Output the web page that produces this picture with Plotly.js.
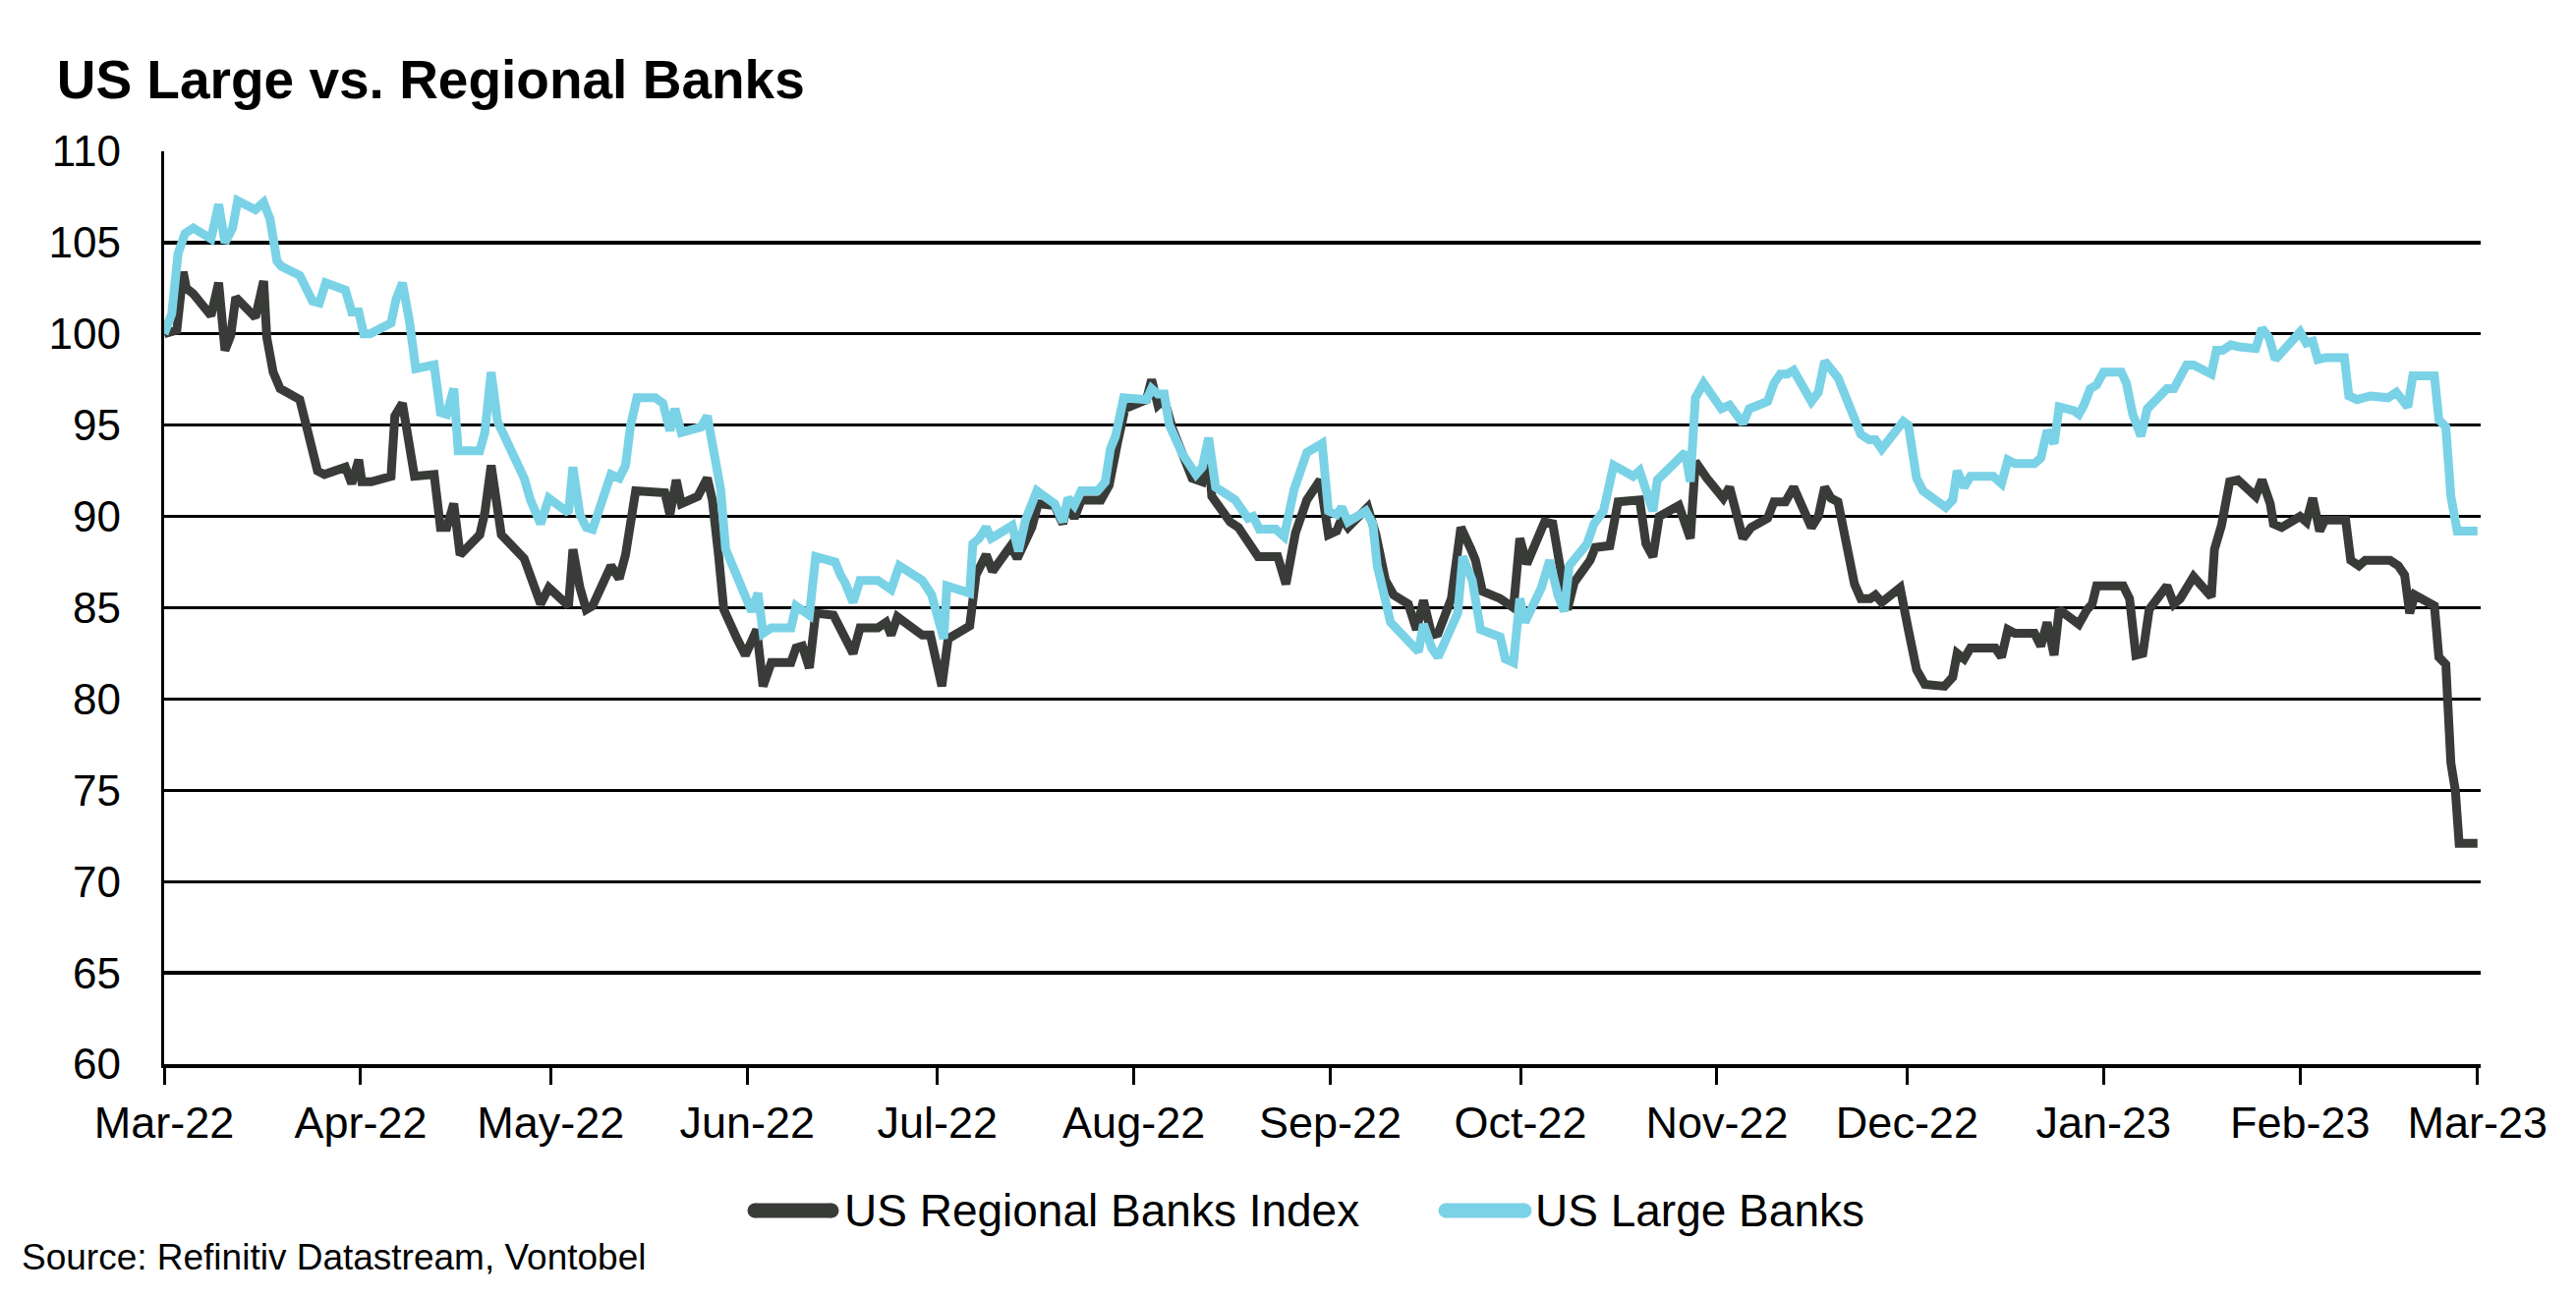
<!DOCTYPE html>
<html>
<head>
<meta charset="utf-8">
<script src="https://cdn.plot.ly/plotly-3.0.1.min.js"></script>
<style>
  html, body { margin: 0; padding: 0; background: #ffffff; }
  #chart { width: 2621px; height: 1321px; }
</style>
</head>
<body>
<div id="chart"></div>
<script>
// ---- Data ----
// Days since 2022-03-01 for each vertex, and index values (rebased to 100)
const startDate = '2022-03-01';

const regionalDays = [
  0,2.0,3.0,3.5,4.6,7.4,8.6,9.6,10.5,11.3,14.4,15.7,16.2,17.2,18.3,21.4,22.7,24.2,25.3,28.6,
  29.6,30.7,31.2,32.7,35.8,36.4,37.6,38.7,39.5,42.6,43.6,44.6,45.7,46.7,49.8,50.6,51.6,53.2,54.5,56.8,
  59.4,60.7,63.8,64.5,65.6,66.6,67.6,70.5,71.8,72.8,74.4,78.5,79.0,79.8,80.8,81.6,84.2,85.7,86.5,87.5,
  88.3,90.4,91.7,93.5,94.5,95.8,98.9,99.7,100.7,101.8,102.8,105.6,106.7,108.7,109.8,112.6,113.9,114.7,115.7,119.6,
  120.9,122.7,123.7,127.1,128.1,129.7,130.7,133.6,134.6,136.9,137.9,140.5,141.8,142.6,143.6,144.7,147.8,149.1,150.4,151.6,
  155.0,155.8,156.8,157.8,159.1,162.2,163.8,164.8,165.3,168.2,169.5,172.6,175.7,177.0,178.5,
  180.3,182.4,183.7,185.0,185.8,186.8,189.9,191.2,192.7,194.0,196.3,197.6,198.7,200.0,201.0,203.1,204.6,206.2,206.9,208.0,
  210.8,212.9,213.9,215.0,217.8,219.1,220.6,221.4,222.5,225.0,225.8,228.1,229.4,232.8,233.8,234.9,235.9,239.0,240.8,
  241.6,243.4,246.0,247.0,249.1,250.4,253.0,254.0,255.8,257.1,259.9,261.0,262.0,263.0,264.1,266.7,267.7,269.2,270.0,271.0,
  273.9,275.2,276.5,277.8,280.9,282.2,282.9,284.0,285.0,288.9,289.9,290.9,292.0,295.1,296.1,297.1,298.2,299.0,
  301.3,302.1,303.4,304.2,304.9,309.1,310.1,311.1,312.2,313.2,316.0,317.1,318.1,320.2,323.0,323.5,324.6,325.9,327.2,330.0,
  331.0,332.3,332.8,334.1,337.0,338.0,339.0,340.1,340.9,344.2,345.0,346.3,347.3,351.2,352.5,353.5,354.3,355.1,358.2,358.9,
  360.0,360.8,361.5,362.1,365.0
];
const regionalValues = [
  100.0,100.2,103.4,102.5,102.2,101.0,102.8,99.1,99.9,102.0,100.9,102.9,99.8,97.9,97.0,96.4,94.6,92.5,92.3,92.7,
  91.8,93.1,91.9,91.9,92.2,95.5,96.2,94.2,92.2,92.3,89.4,89.4,90.7,87.9,89.0,90.2,92.8,89.0,88.5,87.7,
  85.2,86.1,85.1,88.2,86.1,84.9,85.1,87.3,86.6,87.9,91.4,91.4,91.3,90.1,92.0,90.7,91.1,92.1,90.9,87.8,
  84.9,83.3,82.4,83.8,80.7,82.0,82.0,82.8,82.9,81.7,84.7,84.6,83.9,82.5,83.9,83.9,84.2,83.5,84.5,83.5,
  83.5,80.7,83.3,84.0,86.8,87.9,87.0,88.4,87.7,89.4,90.7,90.6,89.6,90.8,89.9,90.9,90.9,91.7,94.0,95.9,
  96.4,97.5,96.1,96.4,94.8,92.1,91.9,93.4,91.1,89.7,89.4,87.8,87.8,86.3,89.1,
  90.9,92.0,89.0,89.2,89.9,89.4,90.5,89.0,86.5,85.7,85.2,83.8,85.4,83.5,83.6,85.5,89.4,88.2,87.6,85.9,
  85.5,85.0,88.8,87.4,89.7,89.6,86.1,84.9,86.4,87.6,88.3,88.4,90.8,90.9,88.5,87.8,90.0,90.6,88.8,
  93.0,92.1,91.0,91.6,88.8,89.4,89.9,90.8,90.8,91.6,89.4,90.0,91.6,91.0,90.8,86.3,85.5,85.5,85.7,85.3,
  86.1,83.8,81.6,80.8,80.7,81.2,82.5,82.2,82.8,82.8,82.3,83.8,83.6,83.6,82.9,84.2,82.4,84.9,
  84.3,84.1,84.9,85.2,86.2,86.2,85.5,82.4,82.5,84.9,86.2,85.2,85.5,86.7,85.6,88.2,89.5,91.9,92.0,91.1,
  92.0,90.7,89.6,89.4,90.0,89.7,91.0,89.2,89.8,89.8,87.6,87.3,87.6,87.6,87.3,86.8,84.7,85.7,85.1,82.3,
  81.9,76.5,75.0,72.1,72.1
];

const largeDays = [
  0,1.2,2.2,3.3,4.6,7.4,8.6,9.6,10.8,11.6,14.4,15.7,16.7,17.8,18.5,21.4,23.4,24.5,25.5,28.6,
  29.6,30.7,31.5,32.5,35.8,36.6,37.6,38.7,39.7,42.6,43.6,44.6,45.7,46.4,49.8,50.6,51.6,52.6,54.5,56.8,57.8,
  59.4,60.7,63.8,64.5,65.6,66.6,67.6,70.5,71.8,72.8,73.6,74.6,77.5,78.7,79.8,80.6,81.6,84.7,85.7,86.8,
  87.8,88.6,90.1,91.7,92.7,93.7,94.5,95.8,98.9,99.7,100.7,101.8,102.8,105.9,106.7,107.4,108.7,109.8,112.6,114.7,116.0,119.6,
  121.1,123.0,123.5,127.1,127.6,128.6,129.7,130.5,133.8,134.8,135.9,137.7,140.5,141.8,142.6,143.6,144.7,147.3,148.5,149.3,
  150.1,151.4,155.0,155.8,156.8,157.8,158.6,160.7,162.8,163.8,164.8,165.9,169.0,171.0,171.8,172.8,175.4,176.7,178.3,179.8,
  180.3,182.7,183.7,185.0,185.8,186.8,189.6,190.7,191.4,193.5,196.1,197.9,198.7,200.0,201.0,204.1,204.9,206.4,207.7,210.8,
  211.6,212.9,213.9,214.7,217.3,218.6,219.9,220.9,221.7,224.5,225.6,227.1,228.7,231.8,232.8,234.9,235.6,237.7,240.0,
  240.8,241.6,242.9,245.7,247.0,249.1,250.1,253.0,254.0,255.0,256.1,257.1,259.9,261.0,262.0,264.1,267.7,269.0,270.0,271.0,
  274.4,275.2,276.5,277.5,281.1,282.2,282.9,284.0,285.0,288.6,289.9,290.9,292.0,295.1,296.1,297.1,298.2,299.0,
  301.3,302.1,302.9,303.9,304.9,306.0,308.8,309.6,310.6,311.9,312.9,316.0,317.1,318.1,319.1,320.2,323.0,323.8,324.8,326.1,
  327.2,330.0,331.0,332.1,333.1,337.0,338.0,339.0,339.8,341.1,344.0,344.7,346.0,348.1,350.9,352.2,354.0,354.8,355.8,358.2,
  358.9,360.0,360.8,361.8,365.0
];
const largeValues = [
  100.0,101.1,104.4,105.5,105.8,105.2,107.1,105.0,105.8,107.3,106.8,107.2,106.3,104.0,103.7,103.2,101.8,101.7,102.8,102.4,
  101.2,101.2,100.0,100.0,100.6,101.9,102.8,100.7,98.1,98.3,95.7,95.6,97.0,93.6,93.6,94.6,97.9,95.2,93.8,92.1,90.9,
  89.6,91.0,90.2,92.7,90.1,89.4,89.3,92.3,92.1,92.8,95.0,96.5,96.5,96.2,94.7,95.9,94.6,94.9,95.5,93.4,
  91.5,88.2,86.9,85.5,84.8,85.8,83.6,83.9,83.9,85.1,84.9,84.6,87.8,87.5,86.8,86.4,85.3,86.5,86.5,86.0,87.3,86.5,
  85.7,83.3,86.2,85.8,88.5,88.8,89.4,88.8,89.5,88.1,89.8,91.4,90.7,89.7,91.0,90.6,91.4,91.4,91.9,93.7,
  94.4,96.5,96.4,97.0,96.7,96.7,95.0,93.4,92.3,92.7,94.3,91.6,90.9,89.9,90.0,89.3,89.3,88.9,91.5,93.2,
  93.5,94.0,90.3,90.1,90.5,89.7,90.3,89.6,87.3,84.2,83.3,82.6,84.1,82.8,82.3,84.7,87.8,86.5,83.8,83.4,
  82.2,82.0,85.5,84.2,86.1,87.6,85.7,84.8,87.3,88.5,89.6,90.3,92.8,92.2,92.5,90.3,92.0,92.7,93.5,
  91.9,96.5,97.3,95.9,96.1,95.1,95.9,96.3,97.3,97.8,97.8,98.0,96.3,96.8,98.5,97.6,94.5,94.2,94.2,93.7,
  95.2,95.0,92.1,91.4,90.5,90.9,92.5,91.6,92.2,92.2,91.8,93.1,92.9,92.9,93.2,94.7,94.0,96.0,
  95.8,95.6,96.1,97.0,97.2,97.9,97.9,97.3,95.6,94.4,95.9,97.0,97.0,97.8,98.3,98.3,97.8,99.1,99.1,99.4,
  99.3,99.2,100.3,99.8,98.6,100.1,99.5,99.6,98.6,98.7,98.7,96.6,96.4,96.6,96.5,96.8,96.0,97.7,97.7,97.7,
  95.3,94.9,91.1,89.2,89.2
];

const tickDates = ['2022-03-01','2022-04-01','2022-05-01','2022-06-01','2022-07-01','2022-08-01','2022-09-01',
                   '2022-10-01','2022-11-01','2022-12-01','2023-01-01','2023-02-01','2023-03-01'];
const tickLabels = ['Mar-22','Apr-22','May-22','Jun-22','Jul-22','Aug-22','Sep-22',
                    'Oct-22','Nov-22','Dec-22','Jan-23','Feb-23','Mar-23'];

const seriesNames = ['US Regional Banks Index', 'US Large Banks'];
const seriesColors = ['#393b38', '#7ad2e6'];
const titleText = 'US Large vs. Regional Banks';
const sourceText = 'Source: Refinitiv Datastream, Vontobel';

// ---- Helpers ----
const baseMs = Date.parse(startDate + 'T00:00:00Z');
function toDate(d) {
  return new Date(baseMs + d * 86400000).toISOString().slice(0, 19).replace('T', ' ');
}

const FONT = 'Liberation Sans, Arial, Helvetica, sans-serif';
const W = 2621, H = 1321;
const M = { l: 167, r: 97, t: 154, b: 238 };
const plotW = W - M.l - M.r;
const plotH = H - M.t - M.b;
const px = X => (X - M.l) / plotW;          // container px -> paper x
const py = Y => (H - M.b - Y) / plotH;      // container px -> paper y

const traces = [
  {
    x: regionalDays.map(toDate),
    y: regionalValues,
    name: seriesNames[0],
    type: 'scatter',
    mode: 'lines',
    line: { color: seriesColors[0], width: 9, shape: 'linear' },
    hoverinfo: 'skip'
  },
  {
    x: largeDays.map(toDate),
    y: largeValues,
    name: seriesNames[1],
    type: 'scatter',
    mode: 'lines',
    line: { color: seriesColors[1], width: 9, shape: 'linear' },
    hoverinfo: 'skip'
  }
];

// ---- Custom legend (long rounded swatches like the reference) ----
const legendY = 1232;
const legendItems = [
  { x0: 768, x1: 846, textX: 857 },
  { x0: 1471, x1: 1551, textX: 1560 }
];
const shapes = [];
const annotations = [];
const capR = 7.5;
legendItems.forEach((it, i) => {
  shapes.push({
    type: 'line', xref: 'paper', yref: 'paper',
    x0: px(it.x0), x1: px(it.x1), y0: py(legendY), y1: py(legendY),
    line: { color: seriesColors[i], width: 15 }
  });
  [it.x0, it.x1].forEach(cx => {
    shapes.push({
      type: 'circle', xref: 'paper', yref: 'paper',
      x0: px(cx - capR), x1: px(cx + capR), y0: py(legendY + capR), y1: py(legendY - capR),
      fillcolor: seriesColors[i], line: { width: 0 }
    });
  });
  annotations.push({
    text: seriesNames[i], xref: 'paper', yref: 'paper',
    x: px(it.textX), y: py(legendY), xanchor: 'left', yanchor: 'middle',
    showarrow: false, font: { family: FONT, size: 46, color: '#000000' }
  });
});
annotations.push({
  text: sourceText, xref: 'paper', yref: 'paper',
  x: px(20), y: py(1279), xanchor: 'left', yanchor: 'middle',
  showarrow: false, font: { family: FONT, size: 37, color: '#000000' }
});

const layout = {
  width: W,
  height: H,
  paper_bgcolor: '#ffffff',
  plot_bgcolor: '#ffffff',
  margin: { l: M.l, r: M.r, t: M.t, b: M.b, pad: 0 },
  font: { family: FONT, color: '#000000', size: 44 },
  title: {
    text: titleText,
    font: { family: FONT, size: 55, weight: 'bold', color: '#000000' },
    x: 0.022, xref: 'container', xanchor: 'left',
    y: 0.939, yref: 'container', yanchor: 'middle'
  },
  xaxis: {
    type: 'date',
    range: [toDate(0), toDate(365.5)],
    tickmode: 'array',
    tickvals: tickDates,
    ticktext: tickLabels,
    ticks: 'outside',
    ticklen: 17,
    tickwidth: 3,
    tickcolor: '#000000',
    showgrid: false,
    showline: true,
    linecolor: '#000000',
    linewidth: 3.5,
    zeroline: false,
    tickfont: { family: FONT, size: 45, color: '#000000' },
    ticklabelstandoff: 0
  },
  yaxis: {
    range: [60, 110],
    dtick: 5,
    tick0: 60,
    ticks: '',
    showgrid: true,
    gridcolor: '#000000',
    gridwidth: 3.2,
    showline: true,
    linecolor: '#000000',
    linewidth: 3.2,
    zeroline: false,
    tickfont: { family: FONT, size: 44, color: '#000000' },
    ticklabelstandoff: 32
  },
  showlegend: false,
  shapes: shapes,
  annotations: annotations
};

Plotly.newPlot('chart', traces, layout, { staticPlot: true, displayModeBar: false });
</script>
</body>
</html>
